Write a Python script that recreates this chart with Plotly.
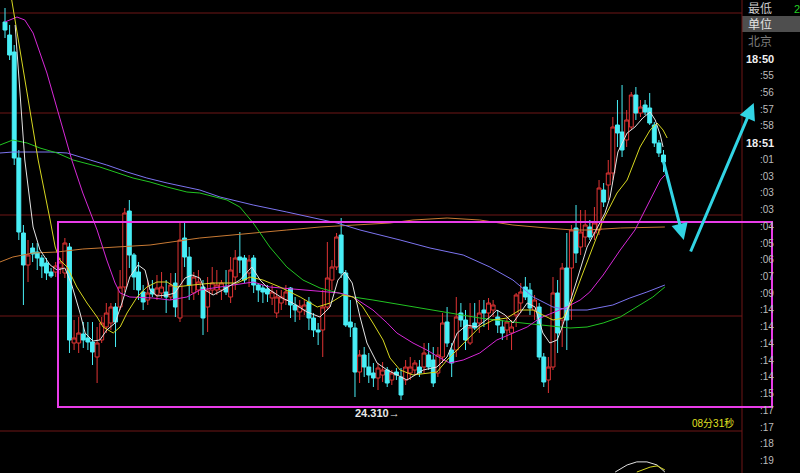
import plotly.graph_objects as go

# ---------------- data ----------------
idx = list(range(144))
open_ = [28.09,27.96,27.79,26.73,25.98,25.66,25.83,25.79,25.73,25.68,
         25.59,25.59,25.63,25.58,25.84,24.88,24.88,24.97,24.93,24.89,
         24.74,24.91,25.04,25.08,25.24,25.24,25.44,26.20,25.76,25.59,
         25.39,25.31,25.42,25.36,25.38,25.39,25.34,25.48,25.13,25.93,
         25.74,25.38,25.41,25.44,25.24,25.41,25.41,25.41,25.44,25.34,
         25.54,25.74,25.73,25.58,25.73,25.46,25.43,25.42,25.33,25.18,
         25.28,25.31,25.43,25.26,25.19,25.21,25.29,25.13,25.01,25.01,
         25.24,25.51,25.64,25.96,25.58,25.09,25.03,24.59,24.76,24.64,
         24.58,24.53,24.56,24.61,24.51,24.59,24.54,24.51,24.58,24.61,
         24.64,24.64,24.76,24.71,24.58,24.74,25.09,24.81,24.81,25.18,
         25.11,24.88,25.08,25.08,25.21,25.18,25.21,25.14,25.04,25.01,
         24.98,25.16,25.28,25.44,25.41,25.21,25.24,24.74,24.51,24.64,
         25.38,25.11,25.63,25.63,26.03,25.84,25.94,26.04,25.98,26.01,
         26.41,26.46,26.58,27.06,26.99,26.91,27.04,27.36,27.18,27.26,
         27.23,27.06,26.88,26.76]
high = [28.23,28.06,27.86,26.81,26.06,25.91,25.88,25.88,25.76,25.73,
        25.63,25.69,25.73,25.93,25.88,25.11,25.14,25.09,25.09,25.09,
        25.04,25.14,25.28,25.28,25.28,25.61,26.23,26.31,25.78,25.69,
        25.46,25.51,25.51,25.56,25.59,25.51,25.58,25.58,26.09,26.08,
        25.84,25.59,25.61,25.51,25.54,25.64,25.61,25.51,25.61,25.74,
        25.81,25.99,25.76,25.76,25.76,25.48,25.46,25.46,25.46,25.41,
        25.41,25.46,25.44,25.34,25.31,25.31,25.34,25.18,25.08,25.41,
        25.89,25.71,25.98,26.13,25.61,25.31,25.08,24.81,24.84,24.78,
        24.68,24.68,24.69,24.64,24.61,24.63,24.63,24.71,24.74,24.71,
        24.71,24.88,24.88,24.84,24.84,25.18,25.24,24.88,25.34,25.28,
        25.21,25.28,25.28,25.31,25.31,25.33,25.31,25.21,25.11,25.13,
        25.11,25.38,25.48,25.54,25.48,25.36,25.28,24.78,24.74,25.54,
        25.51,25.68,25.98,26.06,26.26,26.21,26.21,26.11,26.24,26.51,
        26.48,26.71,27.14,27.31,27.46,27.21,27.39,27.44,27.31,27.31,
        27.38,27.09,26.91,26.81]
low = [27.93,27.71,26.66,25.91,25.26,25.49,25.69,25.61,25.53,25.51,
       25.53,25.54,25.57,25.53,24.78,24.81,24.78,24.83,24.81,24.66,
       24.48,24.88,24.98,25.01,24.84,25.21,25.39,25.63,25.41,25.31,
       25.21,25.26,25.34,25.31,25.33,25.18,25.31,25.14,25.09,25.64,
       25.31,25.31,25.36,24.96,24.99,25.36,25.36,25.31,25.36,25.28,
       25.41,25.58,25.48,25.44,25.38,25.29,25.28,25.29,25.26,25.13,
       25.21,25.26,25.13,25.09,25.11,25.16,25.01,24.94,24.86,24.74,
       25.21,25.41,25.61,25.53,25.04,24.94,24.34,24.48,24.54,24.48,
       24.44,24.41,24.49,24.44,24.46,24.51,24.31,24.46,24.51,24.56,
       24.54,24.58,24.61,24.44,24.54,24.68,24.84,24.54,24.74,25.04,
       24.81,24.86,25.01,24.98,25.04,25.01,25.14,24.98,24.91,24.91,
       24.81,25.04,25.18,25.31,25.16,25.11,24.71,24.44,24.38,24.61,
       24.78,24.84,24.81,25.11,25.68,25.76,25.84,25.91,25.91,25.96,
       26.24,26.31,26.51,26.84,26.74,26.84,27.01,27.11,27.14,27.16,
       27.06,26.84,26.74,26.59]
close = [28.01,27.76,26.73,25.99,25.66,25.76,25.77,25.73,25.65,25.58,
         25.55,25.65,25.69,25.88,24.91,24.93,24.98,24.91,24.89,24.79,
         24.88,25.08,25.18,25.24,25.09,25.44,26.18,25.76,25.54,25.41,
         25.29,25.38,25.37,25.43,25.44,25.34,25.46,25.24,25.91,25.74,
         25.46,25.54,25.49,25.13,25.41,25.48,25.46,25.48,25.39,25.61,
         25.73,25.71,25.51,25.71,25.46,25.41,25.39,25.37,25.39,25.34,
         25.34,25.39,25.26,25.21,25.25,25.26,25.13,25.01,24.99,25.24,
         25.53,25.64,25.94,25.58,25.06,25.04,24.59,24.76,24.64,24.56,
         24.53,24.63,24.61,24.48,24.58,24.56,24.36,24.64,24.64,24.68,
         24.58,24.78,24.64,24.48,24.76,25.08,24.88,24.68,25.14,25.11,
         24.91,25.04,25.03,25.18,25.18,25.28,25.26,25.06,24.98,25.09,
         25.04,25.36,25.39,25.34,25.23,25.31,24.74,24.49,24.64,25.38,
         24.98,25.63,25.11,26.01,25.78,25.99,26.06,25.94,26.08,26.43,
         26.29,26.58,27.04,26.98,26.81,27.11,27.36,27.18,27.24,27.19,
         27.08,26.88,26.78,26.69]

ma5_x = [2.2,4.3,6.1,7.6,9.8,11.3,13.0,14.5,16.3,17.4,19.1,20.6,22.1,23.9,25.4,27.1,28.9,30.4,31.5,33.0,
         35.2,36.9,39.1,40.6,42.3,43.4,45.2,47.3,51.0,53.6,55.4,57.5,60.2,62.5,65.6,68.4,70.6,72.3,73.8,75.4,
         77.1,78.6,80.8,83.0,87.3,90.8,93.8,96.0,98.2,100.3,102.5,105.3,106.8,108.6,110.3,113.4,115.1,116.8,
         118.3,119.9,121.0,122.3,124.2,126.4,128.8,130.3,131.4,133.1,135.1,136.8,138.5,140.1,141.2,142.3,142.9]
ma5_y = [28.06,26.71,26.04,25.81,25.66,25.61,25.63,25.46,25.18,24.98,24.90,24.91,25.01,25.08,25.28,25.54,25.66,25.61,25.41,25.35,
         25.36,25.38,25.53,25.56,25.53,25.41,25.36,25.41,25.51,25.64,25.51,25.41,25.33,25.28,25.19,25.14,25.24,25.51,25.59,25.48,
         25.14,24.88,24.68,24.61,24.51,24.61,24.64,24.74,24.98,25.06,25.04,25.14,25.21,25.16,25.08,25.28,25.24,24.98,
         24.88,24.91,25.04,25.24,25.51,25.84,26.04,26.18,26.34,26.79,26.98,27.04,27.13,27.19,27.11,26.96,26.84]

ma10_x = [1.1,7.2,9.8,10.9,11.9,13.5,15.6,17.8,20.0,21.3,23.5,25.0,26.5,28.7,30.8,33.0,35.2,36.9,40.8,45.2,
          50.4,53.2,56.0,59.7,64.1,67.8,70.6,73.4,75.6,77.7,79.9,82.1,83.6,85.8,88.6,91.6,93.8,96.0,98.2,101.0,
          103.1,106.0,109.0,111.8,114.7,116.8,119.0,121.2,123.3,125.5,127.7,129.9,132.9,135.1,137.9,140.1,141.6,142.9,143.8]
ma10_y = [28.41,26.71,26.11,25.84,25.71,25.64,25.44,25.28,25.14,25.04,24.98,25.04,25.18,25.34,25.44,25.49,25.49,25.44,25.46,25.48,
          25.48,25.54,25.51,25.44,25.34,25.24,25.28,25.36,25.34,25.24,25.08,24.91,24.73,24.61,24.56,24.58,24.59,24.71,24.81,24.94,
          25.04,25.11,25.13,25.21,25.21,25.16,25.11,25.13,25.31,25.58,25.84,26.11,26.38,26.51,26.84,27.01,27.08,27.01,26.93]

ma20_x = [0.0,2.6,4.3,6.1,9.1,11.9,14.5,16.9,20.0,22.1,23.9,25.0,27.1,32.1,35.8,39.5,42.3,46.7,53.9,57.5,
          65.6,72.7,75.6,77.7,79.9,83.0,85.1,88.6,91.6,94.5,96.6,99.5,103.1,106.8,110.3,113.4,116.2,119.0,122.0,
          124.9,127.0,129.9,133.6,136.8,139.6,142.3,143.3]
ma20_y = [28.09,28.14,28.11,27.98,27.58,27.14,26.71,26.38,26.01,25.71,25.48,25.38,25.34,25.33,25.31,25.34,25.41,25.44,25.49,25.44,
          25.41,25.38,25.34,25.28,25.21,25.08,24.98,24.88,24.81,24.73,24.68,24.71,24.78,24.91,24.98,25.04,25.13,25.18,25.24,
          25.31,25.39,25.56,25.81,26.01,26.26,26.51,26.56]

ma60_x = [-1.1,1.7,4.8,7.6,11.3,14.8,20.6,24.3,27.8,31.5,35.2,39.5,42.3,48.2,51.0,53.9,57.5,61.2,64.7,68.4,
          72.1,75.6,79.9,88.6,96.0,103.1,110.3,116.2,122.7,126.4,129.9,133.6,137.2,140.7,143.3]
ma60_y = [26.86,26.91,26.88,26.83,26.78,26.71,26.64,26.58,26.53,26.49,26.44,26.39,26.38,26.31,26.24,26.08,25.84,25.64,25.51,25.43,
          25.38,25.34,25.31,25.24,25.18,25.13,25.09,25.06,25.03,25.04,25.08,25.14,25.24,25.34,25.44]

ma120_x = [-1.1,1.7,9.8,13.5,18.5,22.1,26.5,30.8,35.2,39.5,42.3,46.7,53.9,61.2,66.9,72.1,77.1,83.6,85.8,92.3,
           99.5,105.3,110.3,114.7,119.0,122.7,126.4,132.0,135.7,139.4,143.3]
ma120_y = [26.78,26.79,26.79,26.78,26.71,26.66,26.59,26.53,26.48,26.44,26.41,26.34,26.26,26.19,26.13,26.08,26.01,25.94,25.91,25.83,
           25.76,25.64,25.51,25.34,25.24,25.21,25.21,25.26,25.33,25.39,25.46]

ma250_x = [-1.1,1.7,6.1,11.3,16.9,24.3,31.5,42.3,48.9,53.9,61.2,68.4,75.6,83.6,88.6,96.0,103.1,110.3,117.7,123.3,
           126.4,133.6,143.3]
ma250_y = [25.69,25.74,25.78,25.79,25.82,25.84,25.86,25.93,25.96,25.98,26.01,26.04,26.06,26.08,26.11,26.13,26.11,26.06,26.03,26.01,
           26.01,26.03,26.04]

ind_x = [132.5,135.1,137.2,139.4,141.6,143.3]
ind_white = [0.04,0.34,0.47,0.47,0.34,0.04]
ind_yellow_x = [137.2,140.1,141.6,143.3]
ind_yellow = [0.04,0.25,0.30,0.13]

grid_levels = [28.18, 27.18, 26.16, 25.15, 24.00]
low_label = "24.310→"
low_index = 86
low_value = 24.31
box_top, box_bottom = 26.09, 24.24

panel_times = ["18:50", ":55", ":56", ":57", ":58", "18:51", ":01", ":03", ":03", ":03", ":04", ":05",
               ":06", ":07", ":09", ":14", ":14", ":14", ":14", ":14", ":15", ":17", ":17", ":18", ":19"]

# ---------------- figure ----------------
RED = "#e03434"
CYAN = "#48eef6"
FONT = "Liberation Sans, Noto Sans CJK SC, sans-serif"
W, H = 800, 473

fig = go.Figure()
fig.add_trace(go.Candlestick(
    x=idx, open=open_, high=high, low=low, close=close,
    increasing=dict(line=dict(color=RED, width=1), fillcolor="black"),
    decreasing=dict(line=dict(color=CYAN, width=1), fillcolor=CYAN),
    whiskerwidth=0, hoverinfo="skip"))

for xs, ys, col in [(ma250_x, ma250_y, "#c87a34"), (ma120_x, ma120_y, "#7c74f0"),
                    (ma60_x, ma60_y, "#22c422"), (ma20_x, ma20_y, "#d828d8"),
                    (ma10_x, ma10_y, "#d8d820"), (ma5_x, ma5_y, "#e4e4e4")]:
    fig.add_trace(go.Scatter(x=xs, y=ys, mode="lines", line=dict(color=col, width=1),
                             hoverinfo="skip"))

fig.add_trace(go.Scatter(x=ind_x, y=ind_white, mode="lines", yaxis="y2",
                         line=dict(color="#e0e0e0", width=1), hoverinfo="skip"))
fig.add_trace(go.Scatter(x=ind_yellow_x, y=ind_yellow, mode="lines", yaxis="y2",
                         line=dict(color="#d8d820", width=1), hoverinfo="skip"))

shapes = []
for g in grid_levels:
    shapes.append(dict(type="line", xref="paper", yref="y", x0=0, x1=742 / W, y0=g, y1=g,
                       line=dict(color="#6e1616", width=1), layer="below"))
shapes.append(dict(type="line", xref="paper", yref="paper", x0=742 / W, x1=742 / W, y0=0, y1=1,
                   line=dict(color="#6e1616", width=1)))
shapes.append(dict(type="rect", xref="paper", yref="paper", x0=742 / W, x1=1,
                   y0=1 - 32 / H, y1=1 - 16 / H, fillcolor="#4e4e4e", line=dict(width=0), layer="below"))
shapes.append(dict(type="rect", xref="paper", yref="y", x0=58 / W, x1=772 / W,
                   y0=box_bottom, y1=box_top, line=dict(color="#e83ce8", width=2)))

ann = []
def txt(x, y, s, color, size=11, anchor="left", bold=False):
    ann.append(dict(xref="paper", yref="paper", x=x / W, y=1 - y / H, text=("<b>%s</b>" % s) if bold else s,
                    showarrow=False, xanchor=anchor, yanchor="middle",
                    font=dict(family=FONT, size=size, color=color)))

txt(746, 9, "最低", "#c8c8c8", 12)
txt(792, 9, "2", "#22d022", 11)
txt(746, 24, "单位", "#e4e4e4", 12)
txt(746, 42, "北京", "#7a7a7a", 12)
for k, t in enumerate(panel_times):
    big = t.startswith("18")
    txt(776, 59 + 16.73 * k, t, "#f0f0f0" if big else "#bcbcbc", 11 if big else 10, "right", big)
txt(736, 423, "08分31秒", "#e0e020", 10, "right")

ann.append(dict(x=low_index, y=low_value, xref="x", yref="y", text="<b>%s</b>" % low_label, showarrow=False,
                xanchor="right", yanchor="middle", yshift=-13, xshift=1,
                font=dict(family=FONT, size=11, color="#e8e8e8")))

ann.append(dict(x=147.4, y=25.91, ax=142.9, ay=26.71, xref="x", yref="y", axref="x", ayref="y",
                text="", showarrow=True, arrowhead=2, arrowsize=1.1, arrowwidth=3, arrowcolor="#32d4e4"))
ann.append(dict(x=162.6, y=27.28, ax=148.75, ay=25.78, xref="x", yref="y", axref="x", ayref="y",
                text="", showarrow=True, arrowhead=2, arrowsize=1.1, arrowwidth=3, arrowcolor="#32d4e4"))

fig.update_layout(
    width=W, height=H, margin=dict(l=0, r=0, t=0, b=0),
    paper_bgcolor="black", plot_bgcolor="black", showlegend=False,
    boxgap=0.15, boxgroupgap=0,
    xaxis=dict(range=[-1.086, 172.64], visible=False, rangeslider=dict(visible=False)),
    yaxis=dict(range=[23.58, 28.31], visible=False),
    yaxis2=dict(domain=[0, 0.05], range=[0, 1], visible=False, anchor="x"),
    shapes=shapes, annotations=ann,
)

fig.write_html("out.html", config={"displayModeBar": False},
               post_script="document.body.style.margin='0';document.body.style.background='black';")
